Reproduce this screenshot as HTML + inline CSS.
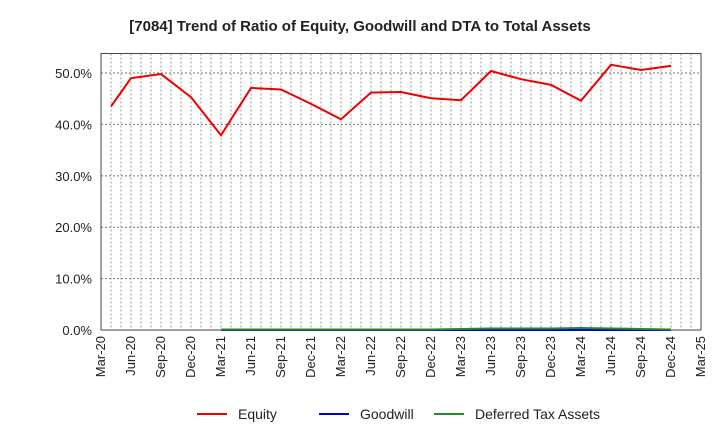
<!DOCTYPE html>
<html><head><meta charset="utf-8"><style>
body{margin:0;background:#fff;font-family:"Liberation Sans",sans-serif}
</style></head><body>
<svg id="c" width="720" height="440" xmlns="http://www.w3.org/2000/svg">
<text x="360" y="31" text-anchor="middle" font-size="15" font-weight="bold" fill="#222">[7084]  Trend of Ratio of Equity, Goodwill and DTA to Total Assets</text>
<g id="grid"></g>
<g id="axes"></g>
<g id="series"></g>
<g>
<line x1="197" y1="414" x2="227" y2="414" stroke="#e00" stroke-width="2"/><text x="238" y="419" font-size="14" fill="#222">Equity</text>
<line x1="319" y1="414" x2="349" y2="414" stroke="#0000cc" stroke-width="2"/><text x="360" y="419" font-size="14" fill="#222">Goodwill</text>
<line x1="434" y1="414" x2="464" y2="414" stroke="#228b22" stroke-width="2"/><text x="475" y="419" font-size="14" fill="#222">Deferred Tax Assets</text>
</g>
</svg>
<script>
const xTickLabels=["Mar-20","Jun-20","Sep-20","Dec-20","Mar-21","Jun-21","Sep-21","Dec-21","Mar-22","Jun-22","Sep-22","Dec-22","Mar-23","Jun-23","Sep-23","Dec-23","Mar-24","Jun-24","Sep-24","Dec-24","Mar-25"];
const yTicks=[0,10,20,30,40,50];
// months since Mar-20
const equityMonths=[1,3,6,9,12,15,18,21,24,27,30,33,36,39,42,45,48,51,54,57];
const equityValues=[43.5,49.0,49.8,45.3,37.9,47.1,46.8,44.0,41.0,46.2,46.3,45.1,44.7,50.4,48.8,47.7,44.6,51.6,50.6,51.4];
const otherMonths=[12,15,18,21,24,27,30,33,36,39,42,45,48,51,54,57];
const goodwillValues=[0,0,0,0,0,0,0,0,0,0,0,0,0,0,0,0];
const dtaValues=[0.1,0.1,0.1,0.1,0.1,0.1,0.1,0.1,0.2,0.3,0.3,0.3,0.4,0.3,0.2,0.1];
const L=101,R=701,B=330,T=53.5,yMax=53.8;
const x=m=>L+m*(R-L)/60, y=v=>B-v*(B-T)/yMax;
const NS="http://www.w3.org/2000/svg";
function mk(p,t,a){const e=document.createElementNS(NS,t);for(const k in a)e.setAttribute(k,a[k]);p.appendChild(e);return e;}
const g=document.getElementById('grid'),ax=document.getElementById('axes'),s=document.getElementById('series');
for(let m=1;m<60;m++){const l=mk(g,'line',{x1:x(m),x2:x(m),y1:T,y2:B,stroke:'#999','stroke-dasharray':'2,2','stroke-width':1});

}
yTicks.forEach(v=>{if(v>0){const l=mk(g,'line',{x1:L,x2:R,y1:y(v),y2:y(v),stroke:'#777','stroke-dasharray':'2,2'});

}
const t=mk(ax,'text',{x:L-9,y:y(v)+5,'text-anchor':'end','font-size':13,fill:'#222'});t.textContent=v.toFixed(1)+'%';

});
const fr=mk(ax,'rect',{x:L,y:T,width:R-L,height:B-T,fill:'none',stroke:'#444'});


xTickLabels.forEach((lb,i)=>{const xx=x(i*3);const t=mk(ax,'text',{x:xx+4,y:B+6,'text-anchor':'end','font-size':13,fill:'#222',transform:`rotate(-90 ${xx+4} ${B+6})`});t.textContent=lb;

});
function line(ms,vs,c,n){const p=mk(s,'polyline',{points:ms.map((m,i)=>x(m)+','+y(vs[i])).join(' '),fill:'none',stroke:c,'stroke-width':2});

}
line(otherMonths,goodwillValues,'#0000cc','goodwill-line');
line(otherMonths,dtaValues,'#228b22','dta-line');
line(equityMonths,equityValues,'#e00','equity-line');
</script>
</body></html>
